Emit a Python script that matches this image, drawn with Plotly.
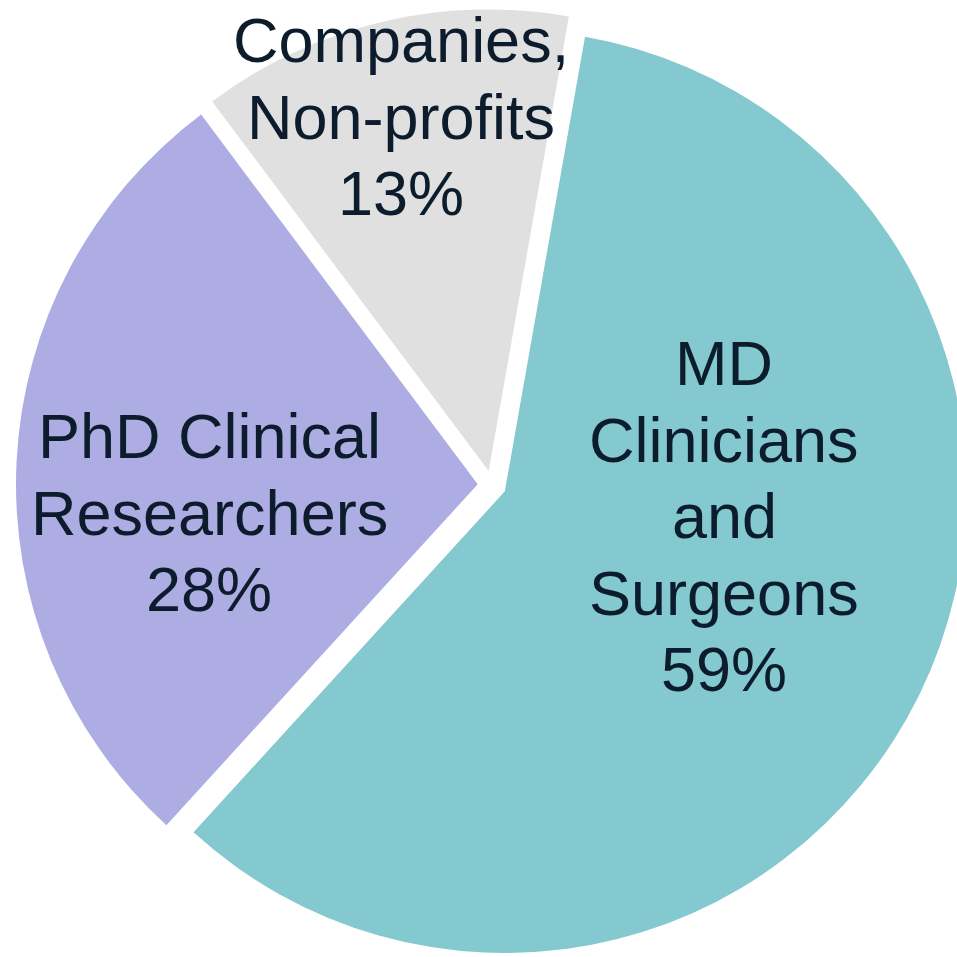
import plotly.graph_objects as go

# ---- data ----
categories = ["MD Clinicians and Surgeons", "PhD Clinical Researchers", "Companies, Non-profits"]
label_lines = [["MD", "Clinicians", "and", "Surgeons"], ["PhD Clinical", "Researchers"], ["Companies,", "Non-profits"]]
values = [59, 28, 13]
colors = ["#83C9CF", "#ADADE4", "#E0E0E0"]

# ---- layout geometry (pixels) ----
ML, MT = 16, 9
PLOT = 952
FIG_W, FIG_H = ML + PLOT, MT + PLOT
FONT = 63
LINE = 76.5
TEXT_COLOR = "#0C1C2C"

fig = go.Figure(go.Pie(
    labels=categories,
    values=values,
    sort=False,
    direction="clockwise",
    rotation=10,
    pull=[0.031, 0.031, 0.031],
    marker=dict(colors=colors, line=dict(width=0)),
    textinfo="none",
    hoverinfo="label+percent",
    showlegend=False,
    domain=dict(x=[0, 1], y=[0, 1]),
))

# label blocks: (centre x px, first baseline y px)
blocks = [(724, 385), (209, 458), (401, 62)]


def px_to_paper(x, y):
    return (x - ML) / PLOT, 1 - (y - MT) / PLOT


annotations = []
for (cx, b0), lines, v in zip(blocks, label_lines, values):
    all_lines = lines + [f"{v}%"]
    for i, t in enumerate(all_lines):
        base = b0 + i * LINE
        xp, yp = px_to_paper(cx, base - 0.3465 * FONT)
        annotations.append(dict(
            x=xp, y=yp, xref="paper", yref="paper",
            text=t, showarrow=False, xanchor="center", yanchor="middle",
            font=dict(family="Liberation Sans, Arial, sans-serif", size=FONT, color=TEXT_COLOR),
        ))

fig.update_layout(
    width=FIG_W, height=FIG_H,
    margin=dict(l=ML, r=0, t=MT, b=0, pad=0),
    paper_bgcolor="white", plot_bgcolor="white",
    annotations=annotations,
)

fig.write_html(
    "out.html",
    config={"displayModeBar": False},
    post_script="document.body.style.margin='0';document.body.style.overflow='hidden';",
)
